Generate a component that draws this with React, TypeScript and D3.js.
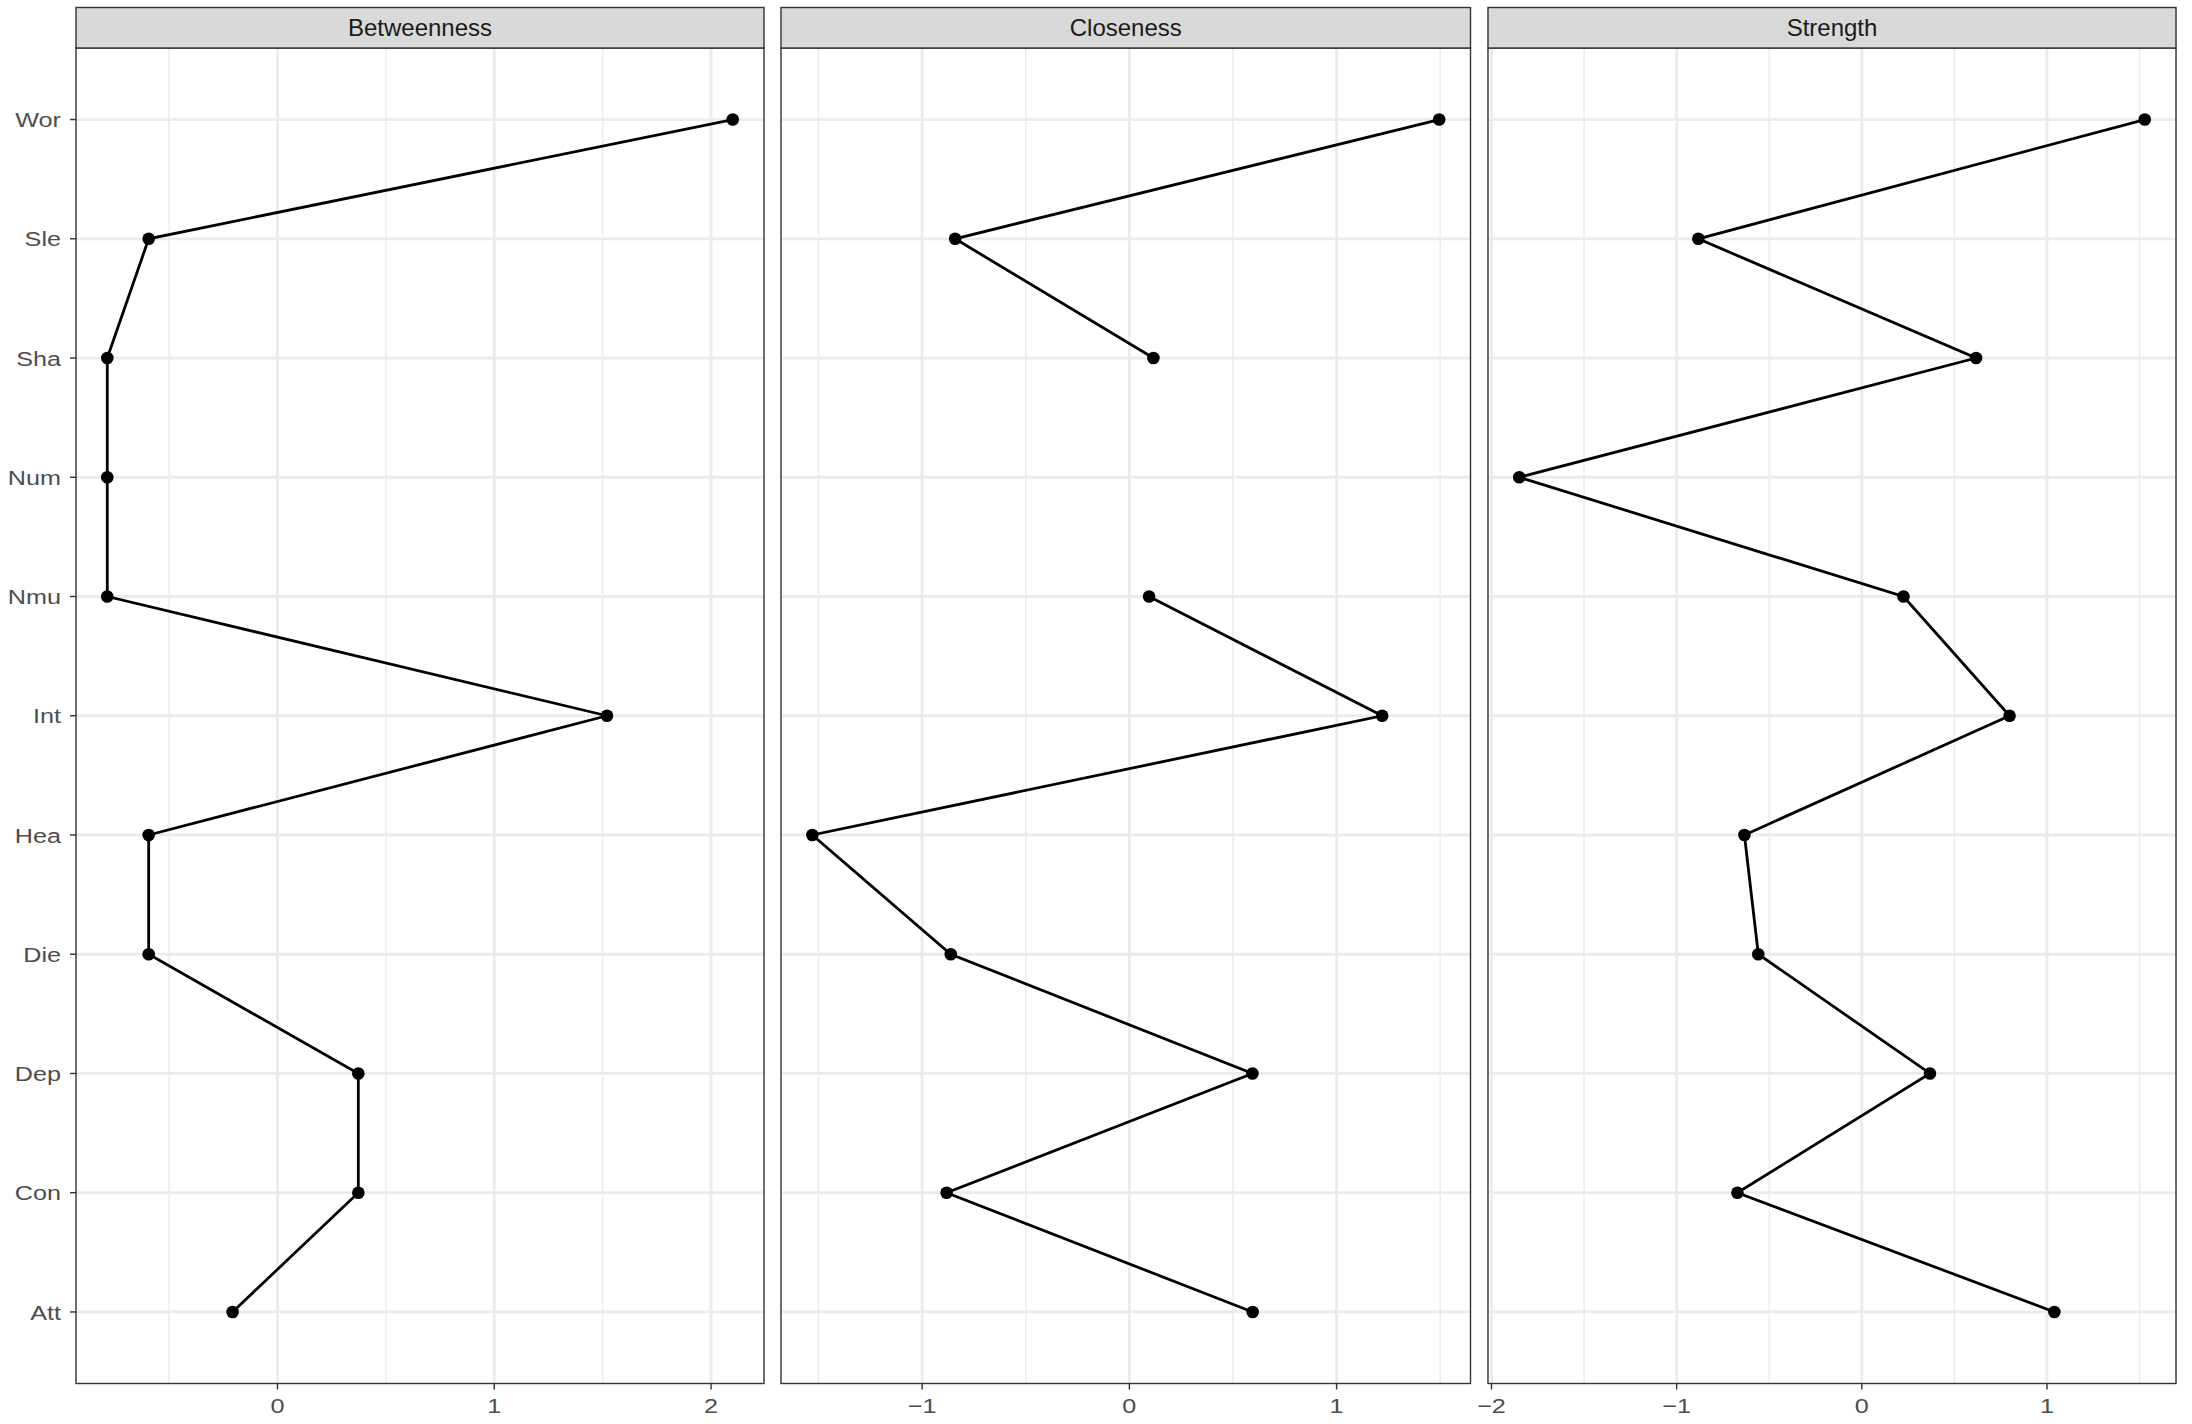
import * as d3 from "d3";

const nodes = ["Wor", "Sle", "Sha", "Num", "Nmu", "Int", "Hea", "Die", "Dep", "Con", "Att"];
const measures = ["Betweenness", "Closeness", "Strength"];

const betweenness = [2.1, -0.594, -0.785, -0.785, -0.785, 1.52, -0.594, -0.594, 0.373, 0.373, -0.207];
const closeness = [1.495, -0.841, 0.116, null, 0.095, 1.22, -1.53, -0.862, 0.594, -0.882, 0.595];
const strength = [1.528, -0.883, 0.617, -1.85, 0.225, 0.798, -0.634, -0.559, 0.368, -0.672, 1.04];

const breaks = [[0, 1, 2], [-1, 0, 1], [-2, -1, 0, 1]];

const W = 2192;
const H = 1424;
const panelX = [[76, 764], [781, 1470.5], [1488, 2176]];
const stripTop = 7.5;
const panelTop = 48;
const panelBottom = 1383.5;
const font = "'Liberation Sans', Arial, Helvetica, sans-serif";
const axisSize = 21;
const stretch = 1.2;

type Pt = { node: string; v: number | null };

// axis text in the reference is a little wider than plain Helvetica
function AxisText({ x, y, anchor, dy, children }: { x: number; y: number; anchor: string; dy?: string; children: any }) {
  return (
    <g transform={`translate(${x},${y}) scale(${stretch},1)`}>
      <text x={0} y={0} dy={dy} textAnchor={anchor} fontSize={axisSize} fill="#4D4D4D" fontFamily={font}>
        {children}
      </text>
    </g>
  );
}

function Panel({ idx }: { idx: number }) {
  const vals = [betweenness, closeness, strength][idx];
  const pts: Pt[] = nodes.map((n, i) => ({ node: n, v: vals[i] }));
  const [x0, x1] = panelX[idx];
  const ext = d3.extent(vals.filter((v) => v != null) as number[]) as [number, number];
  const pad = (ext[1] - ext[0]) * 0.05;
  const x = d3.scaleLinear().domain([ext[0] - pad, ext[1] + pad]).range([x0, x1]);
  const y = d3.scalePoint<string>().domain(nodes).range([panelTop, panelBottom]).padding(0.6);
  const major = breaks[idx];
  const dom = x.domain();
  const minor: number[] = [];
  for (let m = major[0] - 0.5; m <= major[major.length - 1] + 0.5; m += 1) {
    if (m >= dom[0] && m <= dom[1]) minor.push(m);
  }
  const line = d3
    .line<Pt>()
    .defined((d) => d.v != null)
    .x((d) => x(d.v as number))
    .y((d) => y(d.node) as number);
  const fmt = d3.format("d");

  return (
    <g>
      <rect x={x0} y={panelTop} width={x1 - x0} height={panelBottom - panelTop} fill="#fff" />
      {minor.map((m) => (
        <line key={"mi" + m} x1={x(m)} x2={x(m)} y1={panelTop} y2={panelBottom} stroke="#EBEBEB" strokeWidth={1.4} />
      ))}
      {major.map((m) => (
        <line key={"ma" + m} x1={x(m)} x2={x(m)} y1={panelTop} y2={panelBottom} stroke="#EBEBEB" strokeWidth={2.8} />
      ))}
      {nodes.map((n) => (
        <line key={"gy" + n} x1={x0} x2={x1} y1={y(n)} y2={y(n)} stroke="#EBEBEB" strokeWidth={2.8} />
      ))}
      <path d={line(pts) || ""} fill="none" stroke="#000" strokeWidth={2.8} />
      {pts
        .filter((d) => d.v != null)
        .map((d) => (
          <circle key={"p" + d.node} cx={x(d.v as number)} cy={y(d.node)} r={6.3} fill="#000" />
        ))}
      <rect x={x0} y={panelTop} width={x1 - x0} height={panelBottom - panelTop} fill="none" stroke="#333" strokeWidth={1.4} />
      <rect x={x0} y={stripTop} width={x1 - x0} height={panelTop - stripTop} fill="#D9D9D9" stroke="#333" strokeWidth={1.4} />
      <text x={(x0 + x1) / 2} y={(stripTop + panelTop) / 2} dy="0.36em" textAnchor="middle" fontSize={24} fill="#1A1A1A" fontFamily={font}>
        {measures[idx]}
      </text>
      {major.map((m) => (
        <g key={"t" + m}>
          <line x1={x(m)} x2={x(m)} y1={panelBottom} y2={panelBottom + 6} stroke="#333" strokeWidth={1.4} />
          <AxisText x={x(m)} y={panelBottom + 29} anchor="middle">
            {fmt(m)}
          </AxisText>
        </g>
      ))}
      {idx === 0 &&
        nodes.map((n) => (
          <g key={"yl" + n}>
            <line x1={x0 - 6} x2={x0} y1={y(n)} y2={y(n)} stroke="#333" strokeWidth={1.4} />
            <AxisText x={x0 - 15} y={y(n) as number} dy="0.36em" anchor="end">
              {n}
            </AxisText>
          </g>
        ))}
    </g>
  );
}

export default function App() {
  return (
    <svg width={W} height={H} style={{ position: "absolute", left: 0, top: 0, background: "#fff" }}>
      <rect width={W} height={H} fill="#fff" />
      {measures.map((m, i) => (
        <Panel key={m} idx={i} />
      ))}
    </svg>
  );
}
